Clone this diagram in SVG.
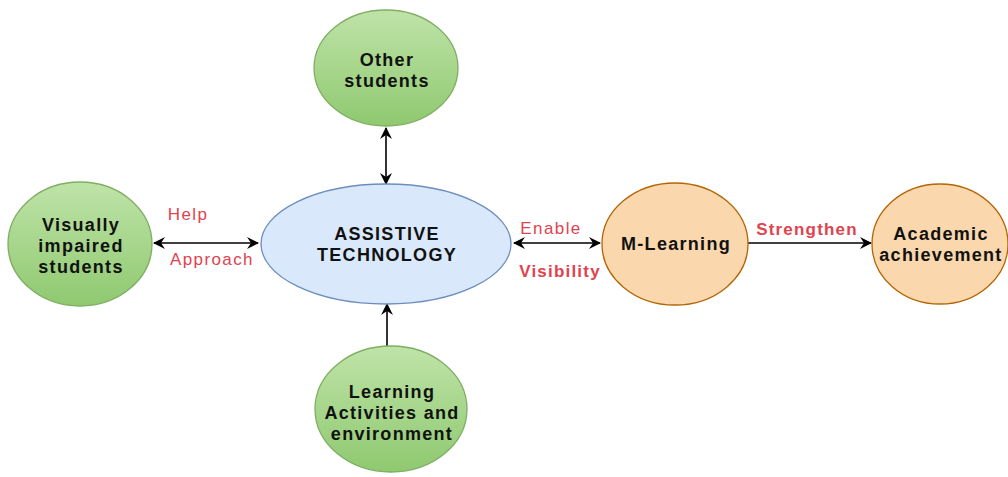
<svg xmlns="http://www.w3.org/2000/svg" width="1008" height="477" viewBox="0 0 1008 477">
  <defs>
    <linearGradient id="gGreen" x1="0" y1="0" x2="0" y2="1">
      <stop offset="0" stop-color="#bfe3a8"/>
      <stop offset="1" stop-color="#8fc970"/>
    </linearGradient>
    <marker id="arr" viewBox="0 0 12 12" refX="11" refY="6" markerWidth="12" markerHeight="12" markerUnits="userSpaceOnUse" orient="auto-start-reverse">
      <path d="M0,0 L12,6 L0,12 L4,6 Z" fill="#000"/>
    </marker>
    <style>
      .green { fill: url(#gGreen); stroke: #7fae62; stroke-width: 1.3; }
      .blue { fill: #dae8fc; stroke: #6c8ebf; stroke-width: 1.3; }
      .orange { fill: #fad7ac; stroke: #b46504; stroke-width: 1.3; }
      .lbl { font-family: "Liberation Sans", Arial, sans-serif; font-weight: bold; font-size: 18px; letter-spacing: 1.3px; fill: #111; text-anchor: middle; }
      .edge { stroke: #000; stroke-width: 1.6; fill: none; }
      .red { font-family: "Liberation Sans", Arial, sans-serif; font-size: 17px; letter-spacing: 1.4px; fill: #e0434e; text-anchor: middle; }
      .redb { font-family: "Liberation Sans", Arial, sans-serif; font-size: 17px; letter-spacing: 1.2px; font-weight: bold; fill: #e0434e; text-anchor: middle; }
    </style>
  </defs>
  <rect width="1008" height="477" fill="#fff"/>

  <g id="connectors">
    <line class="edge" x1="154" y1="243" x2="258" y2="243" marker-start="url(#arr)" marker-end="url(#arr)"/>
    <line class="edge" x1="386" y1="128" x2="386" y2="184" marker-start="url(#arr)" marker-end="url(#arr)"/>
    <line class="edge" x1="387" y1="346" x2="387" y2="304" marker-end="url(#arr)"/>
    <line class="edge" x1="514" y1="243" x2="600" y2="243" marker-start="url(#arr)" marker-end="url(#arr)"/>
    <line class="edge" x1="748" y1="243" x2="871" y2="243" marker-end="url(#arr)"/>
    <text class="red" x="188" y="220">Help</text>
    <text class="red" x="212" y="265">Approach</text>
    <text class="red" x="551" y="234">Enable</text>
    <text class="redb" x="560" y="277">Visibility</text>
    <text class="redb" x="807" y="235">Strengthen</text>
  </g>

  <g id="visually-impaired">
    <ellipse class="green" cx="80" cy="244" rx="72" ry="62"/>
    <text class="lbl" x="81" y="231">Visually</text>
    <text class="lbl" x="81" y="252">impaired</text>
    <text class="lbl" x="81" y="273">students</text>
  </g>

  <g id="other-students">
    <ellipse class="green" cx="386" cy="68" rx="72" ry="58"/>
    <text class="lbl" x="387" y="66">Other</text>
    <text class="lbl" x="387" y="87">students</text>
  </g>

  <g id="assistive-technology">
    <ellipse class="blue" cx="386" cy="244" rx="125" ry="60"/>
    <text class="lbl" x="387" y="240">ASSISTIVE</text>
    <text class="lbl" x="387" y="261">TECHNOLOGY</text>
  </g>

  <g id="learning-activities">
    <ellipse class="green" cx="391" cy="409" rx="76" ry="63"/>
    <text class="lbl" x="392" y="398">Learning</text>
    <text class="lbl" x="392" y="419">Activities and</text>
    <text class="lbl" x="392" y="440">environment</text>
  </g>

  <g id="m-learning">
    <ellipse class="orange" cx="675" cy="244" rx="73" ry="61"/>
    <text class="lbl" x="676" y="250">M-Learning</text>
  </g>

  <g id="academic-achievement">
    <ellipse class="orange" cx="940" cy="244" rx="68" ry="60"/>
    <text class="lbl" x="941" y="240">Academic</text>
    <text class="lbl" x="941" y="261">achievement</text>
  </g>
</svg>
